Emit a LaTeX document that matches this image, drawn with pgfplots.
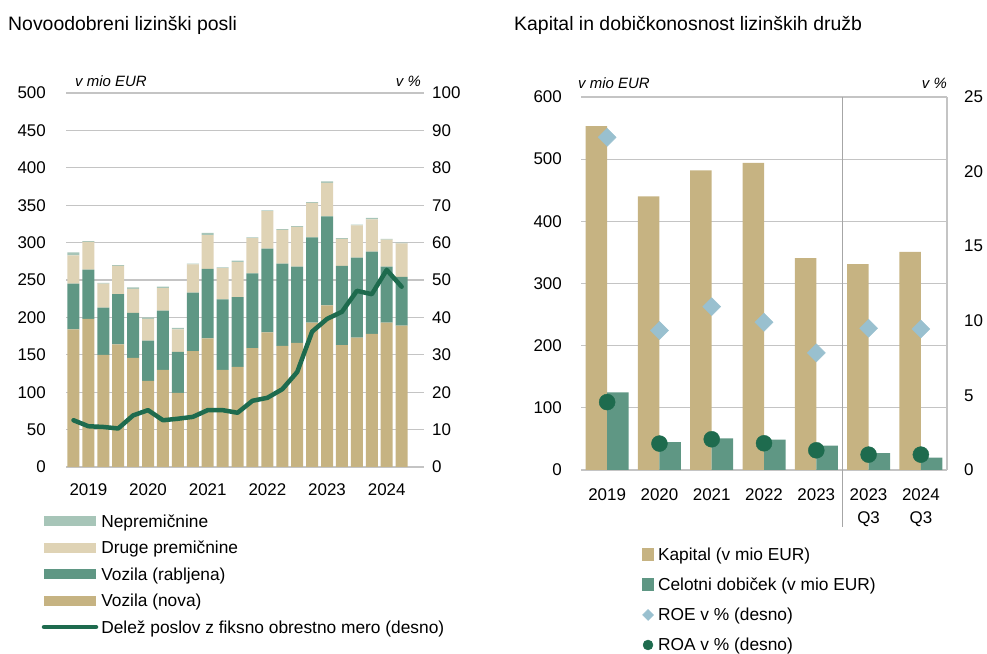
\documentclass[border=0pt]{standalone}
\usepackage{pgfplots}
\usepackage{pgfplotstable}
\pgfplotsset{compat=1.18}
\usepackage{fontspec}
\setmainfont{Liberation Sans}

\definecolor{nova}{HTML}{C6B382}
\definecolor{rab}{HTML}{5F9784}
\definecolor{druge}{HTML}{DFD3B5}
\definecolor{nep}{HTML}{A7C5B8}
\definecolor{linec}{HTML}{1E6B4E}
\definecolor{roe}{HTML}{99C0CF}
\definecolor{gridc}{HTML}{C4C4C4}
\definecolor{sepc}{HTML}{A6A6A6}

\pgfplotstableread{
x nova rab druge nep share
0 184 61 38 4 12.5
1 198 66 37 1 10.9
2 150 63 32 1 10.7
3 164 67 38 1 10.3
4 146 60 32 2 13.8
5 115 54 29 2 15.2
6 130 79 30 2 12.5
7 99 55 30 2 12.9
8 155 78 38 1 13.4
9 172 93 45 3 15.2
10 130 94 42 1 15.2
11 134 93 47 2 14.5
12 159 100 47 1 17.7
13 180 112 50 1 18.5
14 162 110 45 1 20.8
15 166 102 53 1 25.4
16 193 114 46 1 36.2
17 216 119 45 2 39.6
18 163 106 36 1 41.5
19 173 107 43 1 47.1
20 178 110 43 2 46.2
21 193 75 36 1 52.7
22 189 65 45 1 48.2
}\leftdata

\pgfplotstableread{
x kap dob roe roa
0 553 125 22.3 4.55
1 440 45 9.35 1.77
2 482 51 10.95 2.06
3 494 49 9.9 1.79
4 341 39 7.85 1.32
5 331 27 9.5 1.03
6 351 20 9.45 1.03
}\rightdata

\pgfplotsset{
  legbar/.style={legend image code/.code={\fill[##1] (0bp,-5bp) rectangle (52bp,5bp);}},
  legline/.style={legend image code/.code={\draw[##1] (0bp,0bp) -- (52bp,0bp);}},
  legsq/.style={legend image code/.code={\fill[##1] (0bp,-6.5bp) rectangle (12bp,6.5bp);}},
  legdia/.style={legend image code/.code={\path[draw=none,fill=none] (0bp,-6.5bp) rectangle (12bp,6.5bp); \fill[roe] (6bp,5.5bp) -- (11.5bp,0bp) -- (6bp,-5.5bp) -- (0.5bp,0bp) -- cycle;}},
  legdot/.style={legend image code/.code={\path[draw=none,fill=none] (0bp,-6.5bp) rectangle (12bp,6.5bp); \fill[linec] (6bp,0bp) circle (5bp);}},
  tickfont/.style={tick label style={font=\fontsize{17}{24}\selectfont}},
}

\begin{document}
\begin{tikzpicture}[x=1bp,y=1bp]
\useasboundingbox (0,0) rectangle (987,654);
\node[anchor=base west, inner sep=0pt, font=\fontsize{19.5}{22}\selectfont] at (8,623.5) {Novoodobreni lizinški posli};
\node[anchor=base west, inner sep=0pt, font=\fontsize{19.5}{22}\selectfont] at (514,623.5) {Kapital in dobičkonosnost lizinških družb};
\node[anchor=base west, inner sep=0pt, font=\fontsize{15}{18}\selectfont\itshape] at (75,567) {v mio EUR};
\node[anchor=base east, inner sep=0pt, font=\fontsize{15}{18}\selectfont\itshape] at (421,567) {v \%};
\node[anchor=base west, inner sep=0pt, font=\fontsize{15}{18}\selectfont\itshape] at (578,565) {v mio EUR};
\node[anchor=base east, inner sep=0pt, font=\fontsize{15}{18}\selectfont\itshape] at (947,565) {v \%};

% ---------- left chart: bars ----------
\begin{axis}[
  at={(66bp,187bp)}, anchor=south west,
  scale only axis, width=358bp, height=374bp,
  xmin=-0.5, xmax=23.5, ymin=0, ymax=500,
  ybar stacked, bar width=12bp,
  axis x line*=bottom, axis y line*=left,
  axis line style={draw=none},
  ymajorgrids, grid style={gridc, line width=1.1bp},
  major tick length=0pt,
  xtick={1,5,9,13,17,21}, xticklabels={2019,2020,2021,2022,2023,2024},
  ytick={0,50,...,500},
  tickfont,
  xticklabel style={anchor=north, inner sep=0pt, yshift=-16.5bp},
  yticklabel style={anchor=east, inner sep=0pt, xshift=-20bp},
  /pgf/number format/assume math mode=true,
]
\addplot[fill=nova, draw=none] table[x=x,y=nova]{\leftdata};
\addplot[fill=rab, draw=none] table[x=x,y=rab]{\leftdata};
\addplot[fill=druge, draw=none] table[x=x,y=druge]{\leftdata};
\addplot[fill=nep, draw=none] table[x=x,y=nep]{\leftdata};
\end{axis}

% ---------- left chart: line (right axis) ----------
\begin{axis}[
  at={(66bp,187bp)}, anchor=south west,
  scale only axis, width=358bp, height=374bp,
  xmin=-0.5, xmax=23.5, ymin=0, ymax=100,
  axis x line=none, axis y line*=right,
  axis line style={draw=none},
  major tick length=0pt,
  ytick={0,10,...,100},
  tickfont,
  yticklabel style={anchor=west, inner sep=0pt, xshift=8bp},
  /pgf/number format/assume math mode=true,
  legend cell align=left,
  legend style={at={(-0.0677,-0.1257)}, anchor=north west, draw=none, fill=none,
    inner sep=0pt, outer sep=0pt, row sep=12.5bp, column sep=3bp,
    font=\fontsize{17.4}{20}\selectfont,
    nodes={inner sep=0pt, text height=13bp, text depth=1bp}},
]
\addlegendimage{legbar, fill=nep, draw=none}
\addlegendentry{Nepremičnine}
\addlegendimage{legbar, fill=druge, draw=none}
\addlegendentry{Druge premičnine}
\addlegendimage{legbar, fill=rab, draw=none}
\addlegendentry{Vozila (rabljena)}
\addlegendimage{legbar, fill=nova, draw=none}
\addlegendentry{Vozila (nova)}
\addplot[legline, linec, line width=4.5bp, line join=round, line cap=round, mark=none] table[x=x,y=share]{\leftdata};
\addlegendentry{Delež poslov z fiksno obrestno mero (desno)}
\end{axis}

% ---------- right chart: bars ----------
\begin{axis}[
  at={(581bp,184bp)}, anchor=south west,
  scale only axis, width=366bp, height=373bp,
  xmin=-0.5, xmax=6.5, ymin=0, ymax=600,
  ybar, bar width=21.5bp,
  axis x line*=bottom, axis y line*=left,
  axis line style={draw=none},
  ymajorgrids, grid style={gridc, line width=1.1bp},
  major tick length=0pt,
  xtick={0,...,6}, xticklabels={2019,2020,2021,2022,2023,{2023\\Q3},{2024\\Q3}},
  ytick={0,100,...,600},
  tickfont,
  xticklabel style={align=center, anchor=north, inner sep=0pt, yshift=-18bp},
  yticklabel style={anchor=east, inner sep=0pt, xshift=-19bp},
  /pgf/number format/assume math mode=true,
  clip=false,
]
\addplot[fill=nova, draw=none, bar shift=-10.75bp] table[x=x,y=kap]{\rightdata};
\addplot[fill=rab, draw=none, bar shift=10.75bp] table[x=x,y=dob]{\rightdata};
\draw[sepc, line width=1.2bp] (axis cs:4.5,600) -- ([yshift=-57bp]axis cs:4.5,0);
\end{axis}

% ---------- right chart: ROE / ROA (right axis) ----------
\begin{axis}[
  at={(581bp,184bp)}, anchor=south west,
  scale only axis, width=366bp, height=373bp,
  xmin=-0.5, xmax=6.5, ymin=0, ymax=25,
  axis x line=none, axis y line*=right,
  y axis line style={-, gridc, line width=1.1bp},
  major tick length=0pt,
  ytick={0,5,...,25},
  tickfont,
  yticklabel style={anchor=west, inner sep=0pt, xshift=17bp},
  /pgf/number format/assume math mode=true,
  clip=false,
  legend cell align=left,
  legend style={at={(0.1667,-0.2091)}, anchor=north west, draw=none, fill=none,
    inner sep=0pt, outer sep=0pt, row sep=16bp, column sep=4bp,
    font=\fontsize{17.4}{20}\selectfont,
    nodes={inner sep=0pt, text height=13bp, text depth=1bp}},
]
\addlegendimage{legsq, fill=nova, draw=none}
\addlegendentry{Kapital (v mio EUR)}
\addlegendimage{legsq, fill=rab, draw=none}
\addlegendentry{Celotni dobiček (v mio EUR)}
\addplot[only marks, legdia, color=roe, mark=square*, mark size=6.4bp, mark options={rotate=45, roe, fill=roe}] table[x=x,y=roe]{\rightdata};
\addlegendentry{ROE v \% (desno)}
\addplot[only marks, legdot, color=linec, mark=*, mark size=8bp, mark options={linec, fill=linec}] table[x=x,y=roa]{\rightdata};
\addlegendentry{ROA v \% (desno)}
\end{axis}
\end{tikzpicture}
\end{document}
